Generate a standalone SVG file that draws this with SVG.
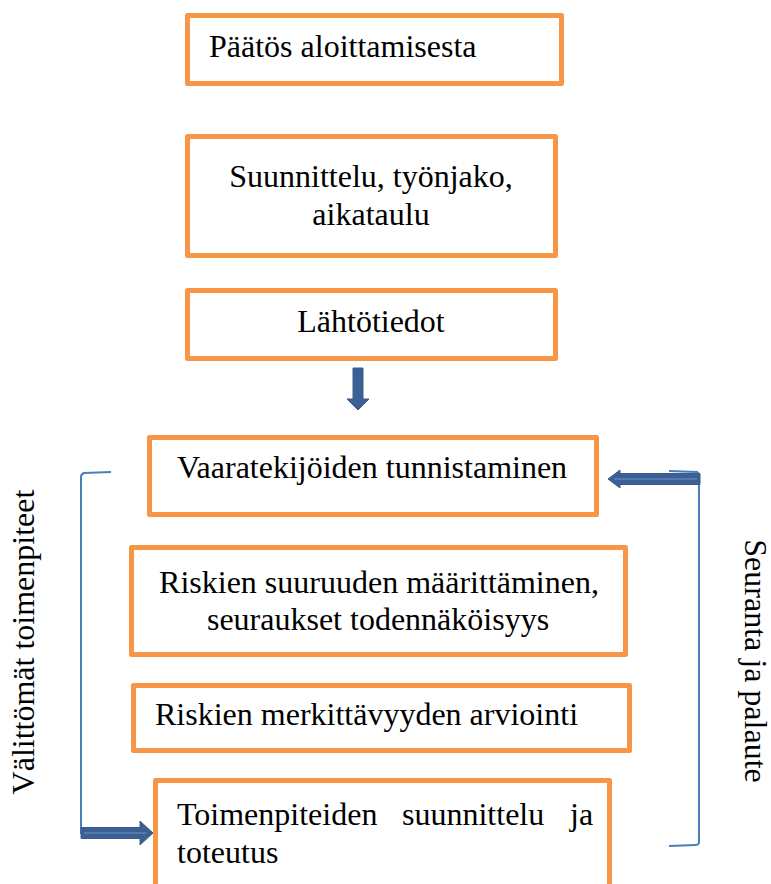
<svg xmlns="http://www.w3.org/2000/svg" width="771" height="884" viewBox="0 0 771 884">
<style>
.box{fill:#fff;stroke:#F79646;stroke-width:5;stroke-linejoin:round}
.t{font-family:"Liberation Serif","Times New Roman",serif;font-size:32px;fill:#000}
.m{text-anchor:middle}
.br{fill:none;stroke:#4A7EBB;stroke-width:2}
.ar{fill:#3C6094;stroke:#3A5C8E;stroke-width:1}
.hl{stroke:#6F92C8;stroke-width:1;fill:none}
</style>
<rect width="771" height="884" fill="#fff"/>
<g id="n1"><rect class="box" x="187.5" y="15.5" width="374" height="68"/><text class="t" x="209" y="57">Päätös aloittamisesta</text></g>
<g id="n2"><rect class="box" x="187.5" y="136.5" width="368" height="119"/><text class="t m" x="371" y="187">Suunnittelu, työnjako,</text><text class="t m" x="371" y="225">aikataulu</text></g>
<g id="n3"><rect class="box" x="187.5" y="290.5" width="368" height="68"/><text class="t m" x="371" y="332">Lähtötiedot</text></g>
<g id="n4"><rect class="box" x="149.5" y="437.5" width="447" height="77"/><text class="t" x="177" y="478">Vaaratekijöiden tunnistaminen</text></g>
<g id="n5"><rect class="box" x="131.5" y="547.5" width="494" height="107"/><text class="t m" x="379" y="593">Riskien suuruuden määrittäminen,</text><text class="t m" x="378" y="630">seuraukset todennäköisyys</text></g>
<g id="n6"><rect class="box" x="133.5" y="685.5" width="496" height="65"/><text class="t" x="155" y="725">Riskien merkittävyyden arviointi</text></g>
<g id="n7"><rect class="box" x="155.5" y="780.5" width="454" height="120"/><text class="t" y="825"><tspan x="177">Toimenpiteiden</tspan><tspan x="402">suunnittelu</tspan><tspan x="570">ja</tspan></text><text class="t" x="177" y="863">toteutus</text></g>
<g id="l1"><text class="t m" transform="translate(34,642) rotate(-90)">Välittömät toimenpiteet</text></g>
<g id="l2"><text class="t m" transform="translate(745,661) rotate(90)">Seuranta ja palaute</text></g>
<g id="connectors">
<polygon class="ar" points="353,368 363,368 363,399 369,399 358,410 347,399 353,399"/>
<path class="br" d="M111,472 L84,473 Q81,474 81,477 L81,834"/>
<polygon class="ar" points="81,827.5 140,827.5 140,821 153,833 140,845 140,838.5 81,838.5"/>
<line class="hl" x1="84" y1="833" x2="146" y2="833"/>
<path class="br" d="M669,471 L697,472 Q699,473 699,476 L699,842 Q699,845 695,845 L669,846"/>
<polygon class="ar" points="700,473.5 620,473.5 620,470 608,479 620,488 620,484.5 700,484.5"/>
<line class="hl" x1="614" y1="479" x2="697" y2="479"/>
</g>
</svg>
